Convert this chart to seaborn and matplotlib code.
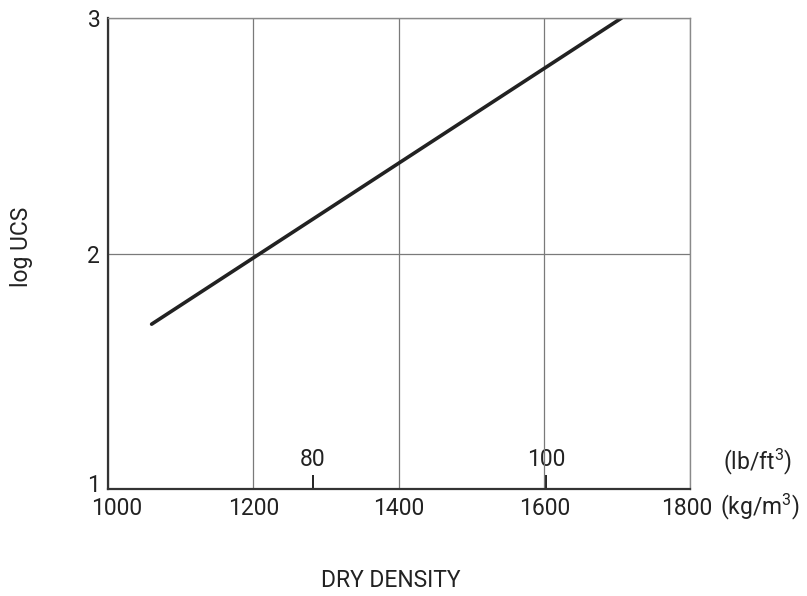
import matplotlib
matplotlib.use("Agg")
import matplotlib.pyplot as plt
import matplotlib.transforms as mtransforms
import seaborn as sns
import pandas as pd

# Dry density (kg/m3) against log of unconfined compressive strength
density_kg = [1060, 1706]
log_ucs = [1.70, 3.00]

x_ticks = [1000, 1200, 1400, 1600, 1800]
y_ticks = [1, 2, 3]
lb_ticks = [80, 100]
KG_PER_LB_FT3 = 16.0185

sns.set_theme(style="white")
plt.rcParams["font.family"] = ["Roboto", "DejaVu Sans"]
plt.rcParams["mathtext.fontset"] = "custom"
plt.rcParams["mathtext.rm"] = "Roboto"
plt.rcParams["mathtext.it"] = "Roboto"

FS = 16.5
INK = "#222222"

df = pd.DataFrame({"density": density_kg, "log_ucs": log_ucs})

fig = plt.figure(figsize=(8.07, 5.96), dpi=100)
ax = fig.add_axes([0.1338, 0.1795, 0.7212, 0.7903])

sns.lineplot(data=df, x="density", y="log_ucs", ax=ax, color=INK,
             linewidth=2.6, solid_capstyle="round")

ax.set_xlim(1000, 1800)
ax.set_ylim(1, 3)
ax.set_xticks(x_ticks)
ax.set_yticks(y_ticks)
ax.set_xticklabels([str(v) for v in x_ticks])
ax.set_yticklabels([str(v) for v in y_ticks])
ax.tick_params(axis="both", length=0, labelsize=FS, colors=INK)
ax.tick_params(axis="x", pad=6.0)
ax.tick_params(axis="y", pad=5.5)


def nudge(label, dx_px, dy_px):
    label.set_transform(label.get_transform() + mtransforms.ScaledTranslation(
        dx_px / fig.dpi, dy_px / fig.dpi, fig.dpi_scale_trans))


# the first density label sits a little right of its gridline,
# and the lowest strength label a little above the corner
nudge(ax.get_xticklabels()[0], 9, 0)
nudge(ax.get_xticklabels()[-1], -3, 0)
nudge(ax.get_yticklabels()[0], 0, 6)

ax.grid(True, color="#7a7a7a", linewidth=0.9)
ax.set_axisbelow(True)

for side in ("left", "bottom"):
    ax.spines[side].set_color("#333333")
    ax.spines[side].set_linewidth(1.6)
for side in ("top", "right"):
    ax.spines[side].set_color("#8a8a8a")
    ax.spines[side].set_linewidth(1.0)

ax.set_xlabel("DRY DENSITY", fontsize=FS, color=INK)
ax.xaxis.set_label_coords(0.486, -0.170)
ax.set_ylabel("log UCS", fontsize=FS, color=INK)
ax.yaxis.set_label_coords(-0.129, 0.514)

# Imperial density scale sitting on the bottom axis, pointing inward
sec = ax.secondary_xaxis(
    "bottom",
    functions=(lambda k: k / KG_PER_LB_FT3, lambda p: p * KG_PER_LB_FT3),
)
sec.set_xticks(lb_ticks)
sec.set_xticklabels([str(v) for v in lb_ticks])
sec.xaxis.set_ticks_position("top")
sec.tick_params(axis="x", direction="out", length=10, width=1.4,
                colors=INK, labelsize=FS, pad=3)
for sp in sec.spines.values():
    sp.set_visible(False)

ax.text(1.117, 0.057, r"(lb/ft$^{3}$)", transform=ax.transAxes, fontsize=FS,
        color=INK, ha="center", va="center")
ax.text(1.121, -0.038, r"(kg/m$^{3}$)", transform=ax.transAxes, fontsize=FS,
        color=INK, ha="center", va="center")

fig.savefig("out.png", dpi=100)
